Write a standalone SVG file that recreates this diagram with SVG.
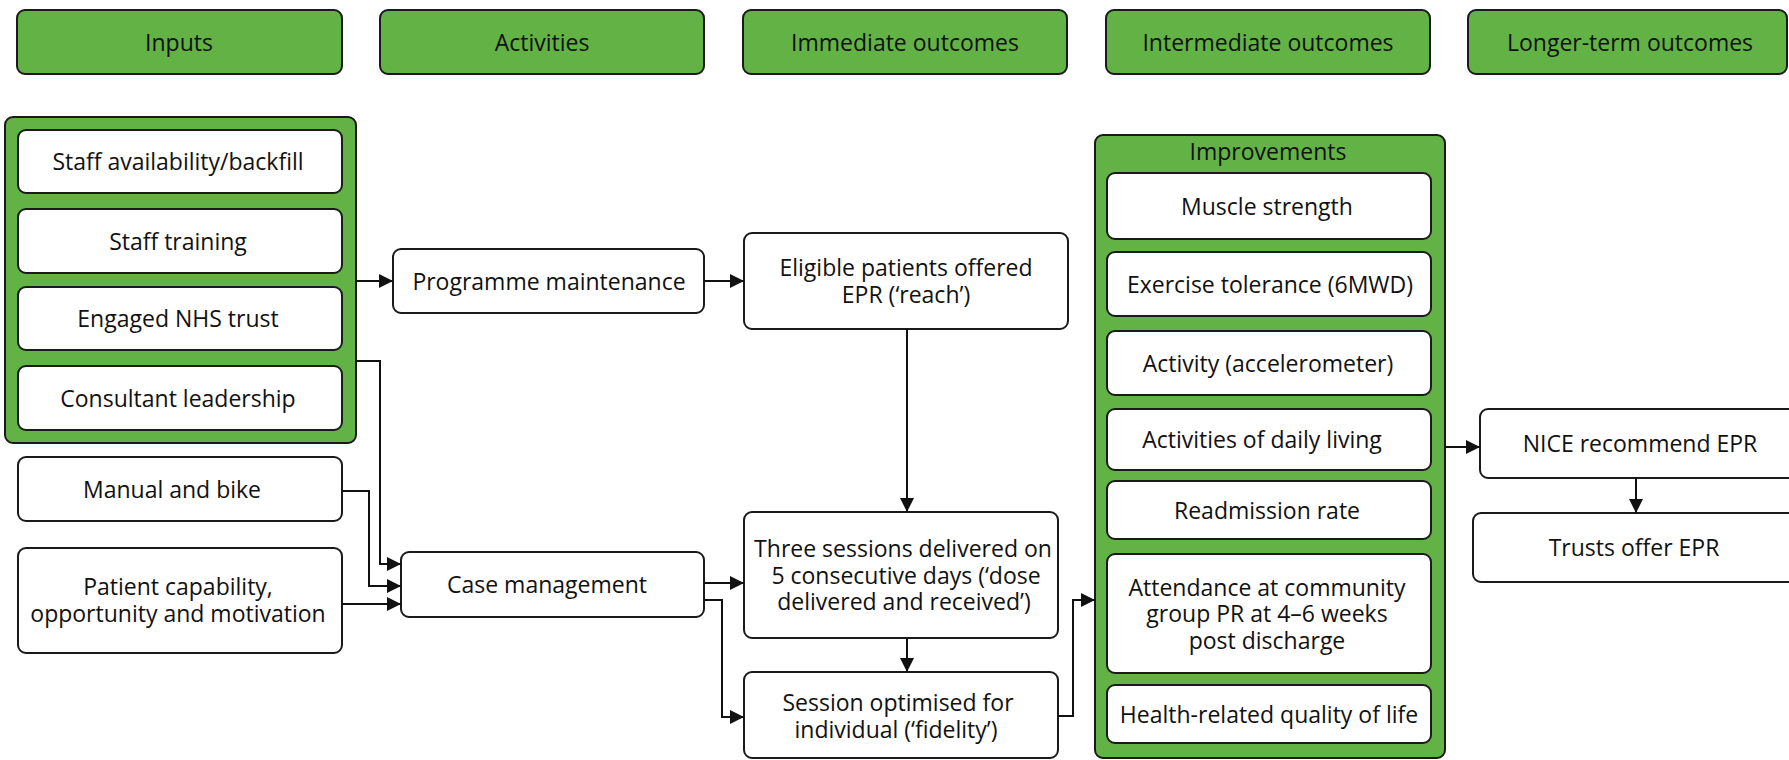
<svg xmlns="http://www.w3.org/2000/svg" width="1789" height="760" viewBox="0 0 1789 760">
<defs>
<style>
.hdr{fill:#63b246;stroke:#1a1a1a;stroke-width:2}
.grp{fill:#63b246;stroke:#1a1a1a;stroke-width:2}
.box{fill:#ffffff;stroke:#1a1a1a;stroke-width:2}
text{font-family:"Open Sans","Noto Sans","Liberation Sans",sans-serif;font-size:23px;fill:#111;text-anchor:middle}
.con path{fill:none;stroke:#111;stroke-width:2;marker-end:url(#arr)}
</style>
<marker id="arr" markerUnits="userSpaceOnUse" markerWidth="15" markerHeight="15" refX="14" refY="7" orient="auto">
<path d="M0,0 L14,7 L0,14 Z" fill="#111"/>
</marker>
</defs>
<rect width="1789" height="760" fill="#ffffff"/>

<g id="hdr-inputs"><rect class="hdr" x="17" y="10" width="325" height="64" rx="8"/><text x="179" y="51">Inputs</text></g>
<g id="hdr-activities"><rect class="hdr" x="380" y="10" width="324" height="64" rx="8"/><text x="542" y="51">Activities</text></g>
<g id="hdr-immediate"><rect class="hdr" x="743" y="10" width="324" height="64" rx="8"/><text x="905" y="51">Immediate outcomes</text></g>
<g id="hdr-intermediate"><rect class="hdr" x="1106" y="10" width="324" height="64" rx="8"/><text x="1268" y="51">Intermediate outcomes</text></g>
<g id="hdr-longer"><rect class="hdr" x="1468" y="10" width="319" height="64" rx="8"/><text x="1630" y="51">Longer-term outcomes</text></g>

<g id="inputs-group">
<rect class="grp" x="5" y="117" width="351" height="326" rx="8"/>
<g id="staff-availability"><rect class="box" x="18" y="130" width="324" height="63" rx="8"/><text x="178" y="170">Staff availability/backfill</text></g>
<g id="staff-training"><rect class="box" x="18" y="209" width="324" height="64" rx="8"/><text x="178" y="249.5">Staff training</text></g>
<g id="engaged-trust"><rect class="box" x="18" y="287" width="324" height="63" rx="8"/><text x="178" y="327">Engaged NHS trust</text></g>
<g id="consultant"><rect class="box" x="18" y="366" width="324" height="64" rx="8"/><text x="178" y="406.5">Consultant leadership</text></g>
</g>

<g id="manual-bike"><rect class="box" x="18" y="457" width="324" height="64" rx="8"/><text x="172" y="497.5">Manual and bike</text></g>
<g id="patient"><rect class="box" x="18" y="548" width="324" height="105" rx="8"/><text x="178" y="595">Patient capability,<tspan x="178" dy="27">opportunity and motivation</tspan></text></g>

<g id="programme"><rect class="box" x="393" y="249" width="311" height="64" rx="8"/><text x="549" y="289.5">Programme maintenance</text></g>
<g id="case"><rect class="box" x="401" y="552" width="303" height="65" rx="8"/><text x="547" y="593">Case management</text></g>

<g id="eligible"><rect class="box" x="744" y="233" width="324" height="96" rx="8"/><text x="906" y="276">Eligible patients offered<tspan x="906" dy="27">EPR (‘reach’)</tspan></text></g>
<g id="three"><rect class="box" x="744" y="512" width="314" height="126" rx="8"/><text x="903" y="557">Three sessions delivered on<tspan x="906" dy="26.5">5 consecutive days (‘dose</tspan><tspan x="904" dy="26.5">delivered and received’)</tspan></text></g>
<g id="session"><rect class="box" x="744" y="672" width="314" height="86" rx="8"/><text x="898" y="711">Session optimised for<tspan x="896" dy="27">individual (‘fidelity’)</tspan></text></g>

<g id="improvements-group">
<rect class="grp" x="1095" y="135" width="350" height="623" rx="8"/>
<text x="1268" y="160">Improvements</text>
<g id="muscle"><rect class="box" x="1107" y="173" width="324" height="66" rx="8"/><text x="1267" y="214.5">Muscle strength</text></g>
<g id="exercise"><rect class="box" x="1107" y="252" width="324" height="64" rx="8"/><text x="1270" y="292.5">Exercise tolerance (6MWD)</text></g>
<g id="activity"><rect class="box" x="1107" y="331" width="324" height="64" rx="8"/><text x="1268" y="371.5">Activity (accelerometer)</text></g>
<g id="adl"><rect class="box" x="1107" y="409" width="324" height="61" rx="8"/><text x="1262" y="448">Activities of daily living</text></g>
<g id="readmission"><rect class="box" x="1107" y="481" width="324" height="58" rx="8"/><text x="1267" y="518.5">Readmission rate</text></g>
<g id="attendance"><rect class="box" x="1107" y="554" width="324" height="119" rx="8"/><text x="1267" y="595.5">Attendance at community<tspan x="1267" dy="26.5">group PR at 4–6 weeks</tspan><tspan x="1267" dy="26.5">post discharge</tspan></text></g>
<g id="hrqol"><rect class="box" x="1107" y="685" width="324" height="58" rx="8"/><text x="1269" y="722.5">Health-related quality of life</text></g>
</g>

<g id="nice"><rect class="box" x="1480" y="409" width="330" height="69" rx="8"/><text x="1640" y="452">NICE recommend EPR</text></g>
<g id="trusts"><rect class="box" x="1473" y="513" width="340" height="69" rx="8"/><text x="1634" y="556">Trusts offer EPR</text></g>

<g id="connectors" class="con">
<path d="M356,281 H393"/>
<path d="M356,361 H380 V564 H401"/>
<path d="M342,491 H369 V586 H401"/>
<path d="M342,604 H401"/>
<path d="M704,281 H744"/>
<path d="M907,329 V512"/>
<path d="M704,583 H744"/>
<path d="M704,600 H722 V717 H744"/>
<path d="M907,638 V672"/>
<path d="M1058,716 H1073 V600 H1095"/>
<path d="M1445,447 H1480"/>
<path d="M1636,478 V513"/>
</g>
</svg>
